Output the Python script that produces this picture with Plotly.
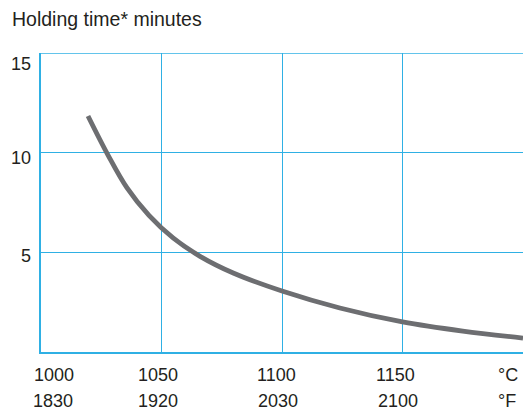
import plotly.graph_objects as go

# ---- data ----
temp_c = [1019.5, 1027.8, 1035.7, 1044.8, 1054.8, 1066, 1080, 1100, 1124, 1150, 1175, 1200]
hold_min = [11.84, 9.88, 8.23, 6.85, 5.72, 4.80, 3.95, 3.06, 2.21, 1.51, 1.05, 0.70]

x_ticks = [1000, 1050, 1100, 1150]
celsius_labels = ["1000", "1050", "1100", "1150"]
fahrenheit_labels = ["1830", "1920", "2030", "2100"]
unit_c = "°C"
unit_f = "°F"
y_ticks = [5, 10, 15]
y_labels = ["5", "10", "15"]
y_title = "Holding time* minutes"

# ---- style ----
W, H = 523, 413
ML, MR, MT, MB = 41, 0, 53, 61
BLUE = "#2fb0e4"
GREY = "#6d6e71"
TXT = "#231f20"
FONT = "Liberation Sans, Arial, Helvetica, sans-serif"
FS = 18

fig = go.Figure()
fig.add_trace(go.Scatter(
    x=temp_c, y=hold_min, mode="lines",
    line=dict(color=GREY, width=4.8, shape="spline", smoothing=1.0),
    hoverinfo="skip", showlegend=False, cliponaxis=True,
))

fig.update_layout(
    width=W, height=H,
    margin=dict(l=ML, r=MR, t=MT, b=MB),
    paper_bgcolor="white", plot_bgcolor="white",
    font=dict(family=FONT, size=FS, color=TXT),
    xaxis=dict(
        range=[1000, 1200], tickvals=x_ticks, showticklabels=False,
        showgrid=True, gridcolor=BLUE, gridwidth=1,
        showline=True, linecolor=BLUE, linewidth=1.5, mirror=False,
        zeroline=False, ticks="", fixedrange=True,
    ),
    yaxis=dict(
        range=[0, 15], tickvals=y_ticks, showticklabels=False,
        showgrid=True, gridcolor=BLUE, gridwidth=1,
        showline=True, linecolor=BLUE, linewidth=1.5,
        zeroline=False, ticks="", fixedrange=True,
    ),
)

# top border line at y=15 (matches grid)
fig.add_shape(type="line", xref="paper", yref="y", x0=0, x1=1, y0=15, y1=15,
              line=dict(color=BLUE, width=1.5))

# y axis labels (sit slightly below their grid lines)
y_shift = [-3.5, -5, -10.5]
for yv, lab, s in zip(y_ticks, y_labels, y_shift):
    fig.add_annotation(x=0, y=yv, xref="paper", yref="y", text=lab, showarrow=False,
                       xanchor="right", yanchor="middle", xshift=-8, yshift=s,
                       font=dict(family=FONT, size=FS, color=TXT))

# x axis labels, two rows
c_shift = [13, -3.5, -5.5, -7.5]
f_shift = [12, -3.5, -4, -5]
for xv, lab, s in zip(x_ticks, celsius_labels, c_shift):
    fig.add_annotation(x=xv, y=0, xref="x", yref="paper", text=lab, showarrow=False,
                       xanchor="center", yanchor="middle", xshift=s, yshift=-23,
                       font=dict(family=FONT, size=FS, color=TXT))
for xv, lab, s in zip(x_ticks, fahrenheit_labels, f_shift):
    fig.add_annotation(x=xv, y=0, xref="x", yref="paper", text=lab, showarrow=False,
                       xanchor="center", yanchor="middle", xshift=s, yshift=-49,
                       font=dict(family=FONT, size=FS, color=TXT))
fig.add_annotation(x=1200, y=0, xref="x", yref="paper", text=unit_c, showarrow=False,
                   xanchor="left", yanchor="middle", xshift=-27, yshift=-23,
                   font=dict(family=FONT, size=FS, color=TXT))
fig.add_annotation(x=1200, y=0, xref="x", yref="paper", text=unit_f, showarrow=False,
                   xanchor="left", yanchor="middle", xshift=-27, yshift=-49,
                   font=dict(family=FONT, size=FS, color=TXT))

# y axis title at top-left
fig.add_annotation(x=0, y=1, xref="paper", yref="paper", text=y_title, showarrow=False,
                   xanchor="left", yanchor="middle", xshift=-31, yshift=34,
                   font=dict(family=FONT, size=19.5, color=TXT))

fig.write_html("out.html", config={"displayModeBar": False},
               post_script="document.body.style.margin='0';")
